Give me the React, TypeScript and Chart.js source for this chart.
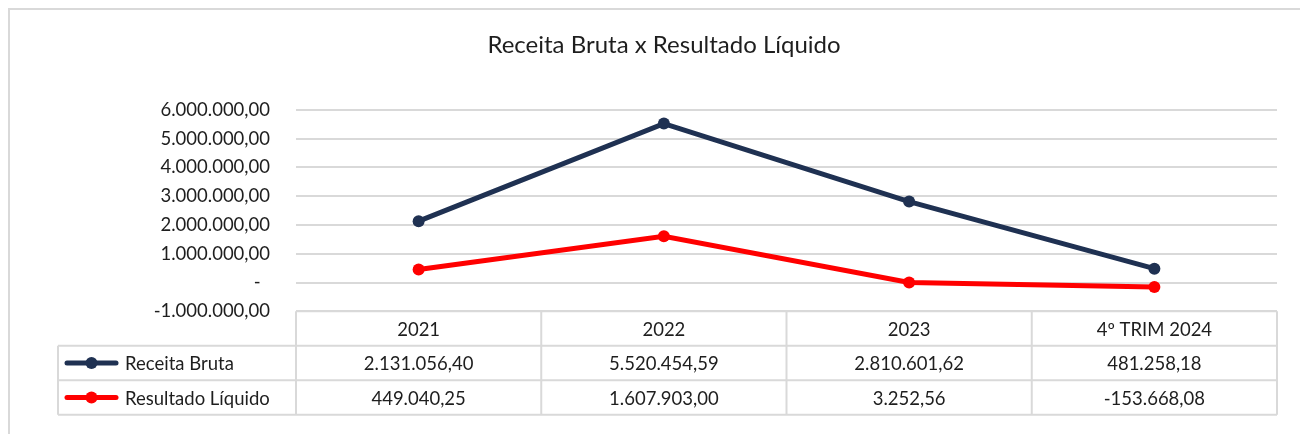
import React, { useEffect, useRef } from "react";
import { Chart, registerables } from "chart.js";

Chart.register(...registerables);

const TITLE = "Receita Bruta x Resultado Líquido";
const CATEGORIES = ["2021", "2022", "2023", "4º TRIM 2024"];
const SERIES_NAMES = ["Receita Bruta", "Resultado Líquido"];
const RECEITA = [2131056.4, 5520454.59, 2810601.62, 481258.18];
const RESULTADO = [449040.25, 1607903.0, 3252.56, -153668.08];
const SERIES_COLORS = ["#1F3152", "#FF0000"];
const Y_MIN = -1000000;
const Y_MAX = 6000000;
const Y_STEP = 1000000;

const FONT = "Lato";
const TEXT_COLOR = "#1E1E1E";
const GRID_COLOR = "#D9D9D9";

function formatBR(v: number): string {
  const neg = v < 0;
  const [ip, dp] = Math.abs(v).toFixed(2).split(".");
  const withDots = ip.replace(/\B(?=(\d{3})+(?!\d))/g, ".");
  return (neg ? "-" : "") + withDots + "," + dp;
}

const tablePlugin = {
  id: "dataTable",
  afterDraw(chart: any) {
    const { ctx, chartArea } = chart;
    const xScale = chart.scales.x;
    const n = CATEGORIES.length;
    const colW = chartArea.width / n;
    const rowH = 34.5;
    const top = chartArea.bottom;
    const legendLeft = 58;
    const right = chartArea.right;
    ctx.save();
    ctx.strokeStyle = GRID_COLOR;
    ctx.lineWidth = 2;
    ctx.beginPath();
    ctx.moveTo(chartArea.left, top);
    ctx.lineTo(right, top);
    for (let r = 1; r <= 3; r++) {
      ctx.moveTo(legendLeft, top + r * rowH);
      ctx.lineTo(right, top + r * rowH);
    }
    ctx.moveTo(legendLeft, top + rowH);
    ctx.lineTo(legendLeft, top + 3 * rowH);
    for (let i = 0; i <= n; i++) {
      const xx = chartArea.left + i * colW;
      ctx.moveTo(xx, top);
      ctx.lineTo(xx, top + 3 * rowH);
    }
    ctx.stroke();

    ctx.fillStyle = TEXT_COLOR;
    ctx.font = `18.5px ${FONT}`;
    ctx.textAlign = "center";
    ctx.textBaseline = "middle";
    CATEGORIES.forEach((c, i) => {
      const cx = xScale.getPixelForValue(i);
      ctx.fillText(c, cx, top + rowH / 2 + 1);
    });
    const rows = [RECEITA, RESULTADO];
    rows.forEach((vals, r) => {
      const cy = top + (r + 1.5) * rowH + 1;
      vals.forEach((v, i) => {
        const cx = xScale.getPixelForValue(i);
        ctx.fillText(formatBR(v), cx, cy);
      });
      const color = SERIES_COLORS[r];
      ctx.strokeStyle = color;
      ctx.lineWidth = 5;
      ctx.lineCap = "round";
      ctx.beginPath();
      ctx.moveTo(67, cy - 1);
      ctx.lineTo(116, cy - 1);
      ctx.stroke();
      ctx.fillStyle = color;
      ctx.beginPath();
      ctx.arc(91.5, cy - 1, 6, 0, Math.PI * 2);
      ctx.fill();
      ctx.fillStyle = TEXT_COLOR;
      ctx.textAlign = "left";
      ctx.fillText(SERIES_NAMES[r], 125, cy);
      ctx.textAlign = "center";
    });
    ctx.restore();
  },
};

export default function App() {
  const canvasRef = useRef<HTMLCanvasElement | null>(null);

  useEffect(() => {
    if (!canvasRef.current) return;
    Chart.defaults.font.family = FONT;
    const chart = new Chart(canvasRef.current, {
      type: "line",
      data: {
        labels: CATEGORIES,
        datasets: [
          {
            label: SERIES_NAMES[0],
            data: RECEITA,
            borderColor: SERIES_COLORS[0],
            backgroundColor: SERIES_COLORS[0],
            borderWidth: 5,
            pointRadius: 6,
            pointBorderWidth: 0,
            tension: 0,
          },
          {
            label: SERIES_NAMES[1],
            data: RESULTADO,
            borderColor: SERIES_COLORS[1],
            backgroundColor: SERIES_COLORS[1],
            borderWidth: 5,
            pointRadius: 6,
            pointBorderWidth: 0,
            tension: 0,
          },
        ],
      },
      options: {
        animation: false,
        responsive: true,
        maintainAspectRatio: false,
        layout: { padding: { left: 51, right: 23, top: 0, bottom: 122.7 } },
        plugins: {
          legend: { display: false },
          tooltip: { enabled: false },
          title: {
            display: true,
            text: TITLE,
            color: TEXT_COLOR,
            font: { family: FONT, size: 24, weight: "normal" },
            padding: { top: 31, bottom: 50 },
          },
        },
        scales: {
          x: {
            display: false,
            offset: true,
            grid: { display: false },
          },
          y: {
            min: Y_MIN,
            max: Y_MAX,
            afterFit: (scale: any) => {
              scale.width = 245;
            },
            border: { display: false },
            grid: { color: GRID_COLOR, lineWidth: 2, drawTicks: false },
            ticks: {
              stepSize: Y_STEP,
              padding: 26,
              color: TEXT_COLOR,
              font: { family: FONT, size: 18.5 },
              callback: (v: any) => (Number(v) === 0 ? "-  " : formatBR(Number(v))),
            },
          },
        },
      },
      plugins: [tablePlugin],
    });
    return () => chart.destroy();
  }, []);

  return (
    <div style={{ position: "fixed", left: 0, top: 0, width: 1300, height: 434, overflow: "hidden", background: "#fff" }}>
      <div
        style={{
          position: "absolute",
          left: 8,
          top: 8,
          width: 1400,
          height: 500,
          border: `2px solid ${GRID_COLOR}`,
        }}
      />
      <div style={{ position: "absolute", left: 0, top: 0, width: 1300, height: 434 }}>
        <canvas ref={canvasRef} />
      </div>
    </div>
  );
}
